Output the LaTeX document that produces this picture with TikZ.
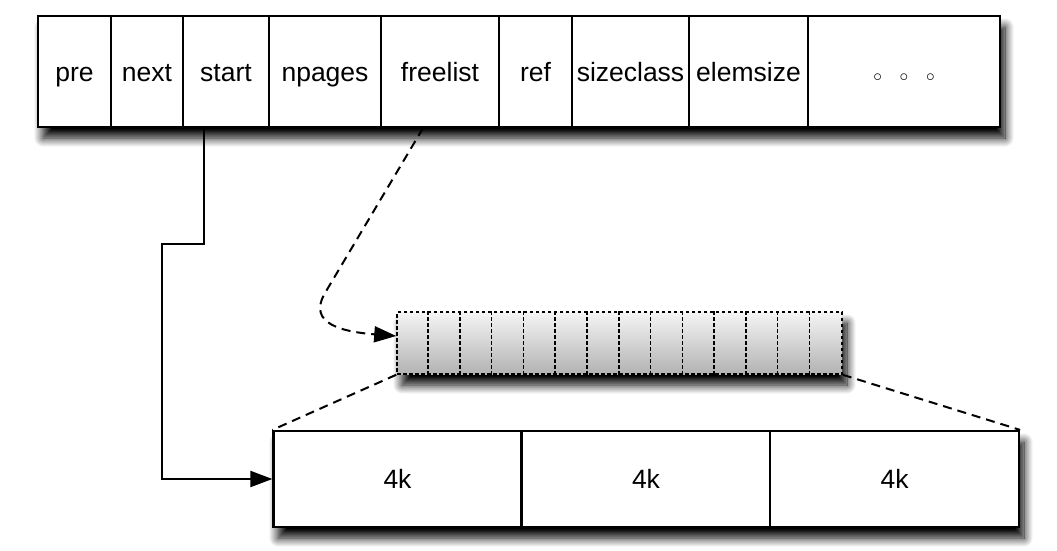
\documentclass[tikz,border=0pt]{standalone}
\usepackage{fontspec}
\setmainfont{Liberation Sans}
\usepackage{tikz}
\usetikzlibrary{arrows.meta,shadows.blur}

\begin{document}
\begin{tikzpicture}[x=1pt, y=-1pt, >={Triangle[length=22pt,width=16pt,fill=black]},
  fld/.style={draw,line width=2.2pt,fill=white,inner sep=0pt,minimum height=111pt,
    text height=20pt,text depth=0pt,font=\fontsize{26.5}{30}\selectfont},
  pg/.style={draw,line width=2.2pt,fill=white,inner sep=0pt,minimum height=96pt,minimum width=248pt,
    text height=18pt,text depth=0pt,font=\fontsize{26.5}{30}\selectfont},
  shd/.style={blur shadow={shadow xshift=5pt,shadow yshift=-11pt,shadow blur radius=9pt,
    shadow blur steps=14,shadow opacity=100}},
  ptr/.style={line width=2pt},
  dsh/.style={line width=2pt,dash pattern=on 9pt off 6pt},
  fine/.style={line width=1.6pt,dash pattern=on 3.5pt off 2.5pt}]
  \useasboundingbox (0,0) rectangle (1057,551);
  % Top: span fields
  \path[shd,fill=white] (38,16) rectangle (1000,127);
  \node[fld,minimum width=73pt]  (pre)       at (74.5,71.5)  {pre};
  \node[fld,minimum width=72pt]  (next)      at (147,71.5)   {next};
  \node[fld,minimum width=86pt]  (start)     at (226,71.5)   {start};
  \node[fld,minimum width=112pt] (npages)    at (325,71.5)   {npages};
  \node[fld,minimum width=118pt] (freelist)  at (440,71.5)   {freelist};
  \node[fld,minimum width=73pt]  (ref)       at (535.5,71.5) {ref};
  \node[fld,minimum width=117pt] (sizeclass) at (630.5,71.5) {sizeclass};
  \node[fld,minimum width=119pt] (elemsize)  at (748.5,71.5) {elemsize};
  \node[fld,minimum width=192pt] (more)      at (904,71.5)
    {$\scriptstyle\circ$\hspace{17.7pt}$\scriptstyle\circ$\hspace{17.7pt}$\scriptstyle\circ$};
  % Middle: free objects
  \node[draw,fine,shd,minimum width=445pt,minimum height=62pt,inner sep=0pt,
    top color=black!4,bottom color=black!30] (strip) at (619.5,343) {};
  \foreach \i in {1,...,13}
    \draw[fine] ([xshift=\i*31.79pt]strip.north west) -- ([xshift=\i*31.79pt]strip.south west);
  % Bottom: pages
  \path[shd,fill=white] (273,431) rectangle (1019,527);
  \node[pg] (page1) at (397.5,479) {4k};
  \node[pg] (page2) at (646,479) {4k};
  \node[pg,minimum width=249pt] (page3) at (894.5,479) {4k};
  % Pointers
  \coordinate (bend) at (162,244);
  \draw[ptr,->] ([xshift=-22pt]start.south) |- (bend) |- (page1.west);
  \draw[dsh,->] ([xshift=-17pt]freelist.south) -- (325,293)
    .. controls (314,312) and (318,330) .. ([yshift=7pt]strip.west);
  \draw[dsh] (strip.south west) -- (page1.north west);
  \draw[dsh] (strip.south east) -- (page3.north east);
\end{tikzpicture}
\end{document}
